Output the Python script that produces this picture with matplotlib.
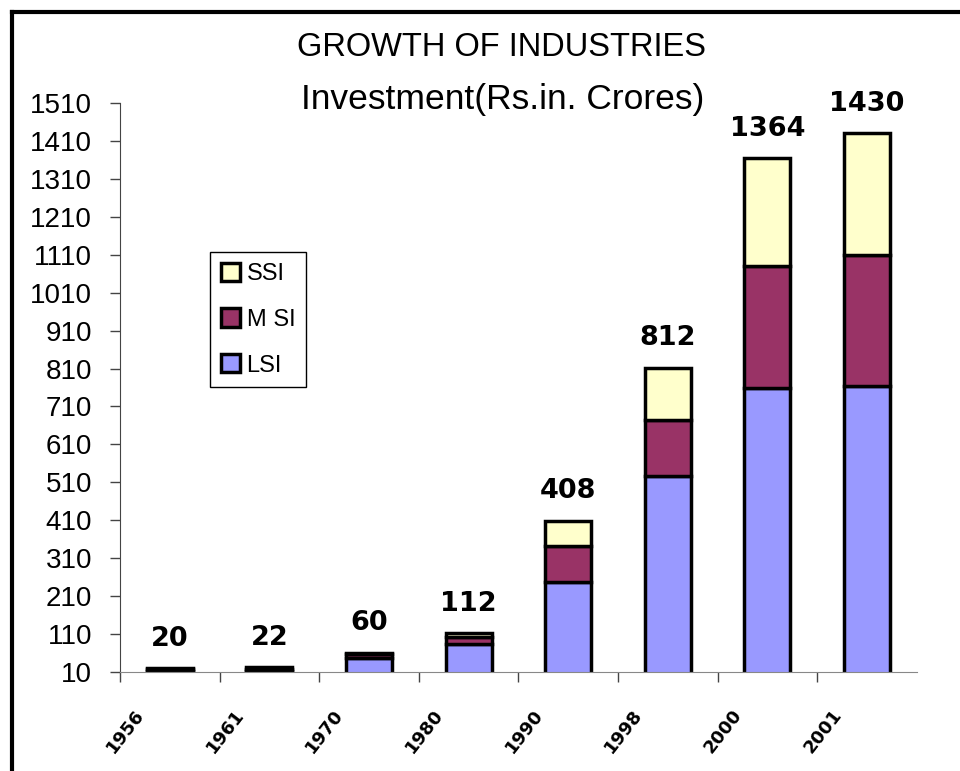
import numpy as np
import matplotlib
matplotlib.use('Agg')
import matplotlib.pyplot as plt
from matplotlib.lines import Line2D
from matplotlib.transforms import ScaledTranslation

plt.rcParams['font.family'] = ['Liberation Sans', 'DejaVu Sans']

# --- data ---
years = ['1956', '1961', '1970', '1980', '1990', '1998', '2000', '2001']
lsi = [12, 13, 48, 85, 247, 527, 759, 765]
msi = [5, 6, 10, 17, 95, 148, 322, 343]
ssi = [3, 3, 2, 10, 66, 137, 283, 322]
totals = [20, 22, 60, 112, 408, 812, 1364, 1430]
yticks = list(range(10, 1511, 100))

col_lsi = '#9999FF'
col_msi = '#993366'
col_ssi = '#FFFFCC'

fig = plt.figure(figsize=(9.6, 7.71), dpi=100)
ax = fig.add_axes([0.125, 0.1284, 0.83, 0.738])

x = np.arange(len(years))
lsi = np.array(lsi)
msi = np.array(msi)
ssi = np.array(ssi)
w = 0.46
lw = 2.5

b1 = ax.bar(x, lsi, w, color=col_lsi, edgecolor='black', linewidth=lw, label='LSI')
b2 = ax.bar(x, msi, w, bottom=lsi, color=col_msi, edgecolor='black', linewidth=lw, label='M SI')
b3 = ax.bar(x, ssi, w, bottom=lsi + msi, color=col_ssi, edgecolor='black', linewidth=lw, label='SSI')

# value labels on top
for xi, t in zip(x, totals):
    ax.text(xi, t + 44, str(t), ha='center', va='bottom', fontsize=19.5,
            fontweight='bold', family='DejaVu Sans')

ax.set_xlim(-0.5, len(years) - 0.5)
ax.set_ylim(10, 1510)
ax.set_yticks(yticks)
ax.set_yticklabels([str(v) for v in yticks], fontsize=20)
ax.tick_params(axis='y', length=7, width=1, color='#444444', pad=13)

# x ticks between categories, labels under bars
ax.set_xticks(np.arange(len(years)) - 0.5)
ax.set_xticklabels([''] * len(years))
ax.tick_params(axis='x', length=7, width=1, color='#444444', direction='out')
shift = ScaledTranslation(-36 / 100, -34 / 100, fig.dpi_scale_trans)
for xi, yr in zip(x, years):
    ax.text(xi, 10, yr, rotation=52, ha='right', va='top', fontsize=13,
            fontweight='bold', family='DejaVu Sans', rotation_mode='anchor',
            transform=ax.transData + shift)

for s in ['top', 'right']:
    ax.spines[s].set_visible(False)
ax.spines['left'].set_color('#444444')
ax.spines['bottom'].set_color('#888888')

fig.text(0.522, 1 - 48 / 771, 'GROWTH OF INDUSTRIES', ha='center', va='center', fontsize=23.5)
fig.text(0.524, 1 - 100 / 771, 'Investment(Rs.in. Crores)', ha='center', va='center', fontsize=25.5)

leg = ax.legend(handles=[b3, b2, b1], labels=['SSI', 'M SI', 'LSI'],
                loc='upper left', bbox_to_anchor=(210 / 960, 1 - 252 / 771),
                bbox_transform=fig.transFigure, fancybox=False, edgecolor='black',
                framealpha=1, fontsize=17, handlelength=0.8, handleheight=0.8,
                handletextpad=0.3, labelspacing=1.0, borderpad=0.45, borderaxespad=0)
leg.get_frame().set_linewidth(1)

# outer frame (left and top edges visible)
fig.add_artist(Line2D([12 / 960, 12 / 960], [0, 1 - 12 / 771], color='black', lw=3,
                      transform=fig.transFigure))
fig.add_artist(Line2D([12 / 960, 1], [1 - 12 / 771, 1 - 12 / 771], color='black', lw=3,
                      transform=fig.transFigure))

fig.savefig('out.png', dpi=100)
